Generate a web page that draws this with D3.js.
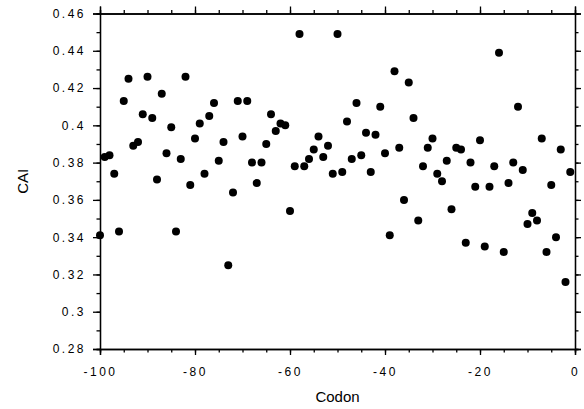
<!DOCTYPE html>
<meta charset="utf-8">
<style>
    body { margin: 0; background: #fff; }
    text { font-family: "Liberation Sans", Arial, Helvetica, sans-serif; fill: #000; }
    .tick text { font-size: 12px; letter-spacing: 2.5px; }
    .domain, .tick line { stroke: #000; stroke-width: 1.3; }
    circle.dot { fill: #000; }
</style>
<body>
<script src="https://cdn.jsdelivr.net/npm/d3@7/dist/d3.min.js"></script>
<script>

    var width = 584;
    var height = 409;

    // codon positions -100 .. -1
    var codons = [
        -100, -99, -98, -97, -96, -95, -94, -93, -92, -91,
        -90, -89, -88, -87, -86, -85, -84, -83, -82, -81,
        -80, -79, -78, -77, -76, -75, -74, -73, -72, -71,
        -70, -69, -68, -67, -66, -65, -64, -63, -62, -61,
        -60, -59, -58, -57, -56, -55, -54, -53, -52, -51,
        -50, -49, -48, -47, -46, -45, -44, -43, -42, -41,
        -40, -39, -38, -37, -36, -35, -34, -33, -32, -31,
        -30, -29, -28, -27, -26, -25, -24, -23, -22, -21,
        -20, -19, -18, -17, -16, -15, -14, -13, -12, -11,
        -10, -9, -8, -7, -6, -5, -4, -3, -2, -1
    ];

    var cai = [
        0.341, 0.383, 0.384, 0.374, 0.343, 0.413, 0.425, 0.389, 0.391, 0.406,
        0.426, 0.404, 0.371, 0.417, 0.385, 0.399, 0.343, 0.382, 0.426, 0.368,
        0.393, 0.401, 0.374, 0.405, 0.412, 0.381, 0.391, 0.325, 0.364, 0.413,
        0.394, 0.413, 0.380, 0.369, 0.380, 0.390, 0.406, 0.397, 0.401, 0.400,
        0.354, 0.378, 0.449, 0.378, 0.382, 0.387, 0.394, 0.383, 0.389, 0.374,
        0.449, 0.375, 0.402, 0.382, 0.412, 0.384, 0.396, 0.375, 0.395, 0.410,
        0.385, 0.341, 0.429, 0.388, 0.360, 0.423, 0.404, 0.349, 0.378, 0.388,
        0.393, 0.374, 0.370, 0.381, 0.355, 0.388, 0.387, 0.337, 0.380, 0.367,
        0.392, 0.335, 0.367, 0.378, 0.439, 0.332, 0.369, 0.380, 0.410, 0.376,
        0.347, 0.353, 0.349, 0.393, 0.332, 0.368, 0.340, 0.387, 0.316, 0.375
    ];

    var xMajor = [-100, -80, -60, -40, -20, 0];
    var yMajor = [0.28, 0.30, 0.32, 0.34, 0.36, 0.38, 0.40, 0.42, 0.44, 0.46];

    var xTitle = "Codon";
    var yTitle = "CAI";

    var plotLeft = 100, plotRight = 575, plotTop = 13.5, plotBottom = 349;

    var x = d3.scaleLinear().domain([-100, 0]).range([plotLeft, plotRight]);
    var y = d3.scaleLinear().domain([0.28, 0.46]).range([plotBottom, plotTop]);

    var xMinor = d3.range(-100, 1, 5);
    var yMinor = d3.range(28, 47, 1).map(function (d) { return d / 100; });

    var svg = d3.select("body").append("svg")
        .attr("width", width)
        .attr("height", height);

    function fmtY(d) { return String(+d.toFixed(2)); }
    function fmtX(d) { return String(d); }

    // minor ticks first (no labels)
    svg.append("g").attr("transform", "translate(0," + plotBottom + ")")
        .call(d3.axisBottom(x).tickValues(xMinor).tickSize(3.5).tickFormat(""));
    svg.append("g").attr("transform", "translate(0," + plotTop + ")")
        .call(d3.axisTop(x).tickValues(xMinor).tickSize(3.5).tickFormat(""));
    svg.append("g").attr("transform", "translate(" + plotLeft + ",0)")
        .call(d3.axisLeft(y).tickValues(yMinor).tickSize(3.5).tickFormat(""));
    svg.append("g").attr("transform", "translate(" + plotRight + ",0)")
        .call(d3.axisRight(y).tickValues(yMinor).tickSize(3.5).tickFormat(""));

    // major ticks
    svg.append("g").attr("transform", "translate(0," + plotBottom + ")")
        .call(d3.axisBottom(x).tickValues(xMajor).tickSize(6).tickPadding(12).tickFormat(fmtX));
    svg.append("g").attr("transform", "translate(0," + plotTop + ")")
        .call(d3.axisTop(x).tickValues(xMajor).tickSize(7).tickFormat(""));
    svg.append("g").attr("transform", "translate(" + plotLeft + ",0)")
        .call(d3.axisLeft(y).tickValues(yMajor).tickSize(7).tickPadding(7).tickFormat(fmtY));
    svg.append("g").attr("transform", "translate(" + plotRight + ",0)")
        .call(d3.axisRight(y).tickValues(yMajor).tickSize(6).tickFormat(""));

    // points
    var points = codons.map(function (c, i) { return { codon: c, value: cai[i] }; });

    svg.selectAll("circle.dot")
        .data(points)
        .enter()
        .append("circle")
        .attr("class", "dot")
        .attr("r", 4)
        .attr("cx", function (d) { return x(d.codon); })
        .attr("cy", function (d) { return y(d.value); });

    // titles
    svg.append("text")
        .attr("x", (plotLeft + plotRight) / 2)
        .attr("y", 402)
        .attr("text-anchor", "middle")
        .style("font-size", "15px")
        .text(xTitle);

    svg.append("text")
        .attr("transform", "translate(28," + (plotTop + plotBottom) / 2 + ") rotate(-90)")
        .attr("text-anchor", "middle")
        .style("font-size", "15px")
        .text(yTitle);

</script>
</body>
</html>
